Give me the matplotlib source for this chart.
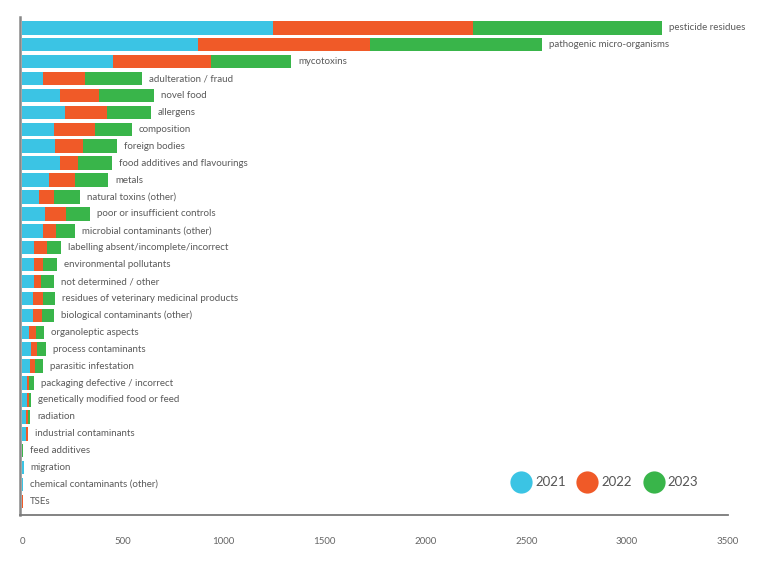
import matplotlib
matplotlib.use("Agg")
import matplotlib.pyplot as plt
from matplotlib.lines import Line2D
import numpy as np

categories = [
    "pesticide residues", "pathogenic micro-organisms", "mycotoxins",
    "adulteration / fraud", "novel food", "allergens", "composition",
    "foreign bodies", "food additives and flavourings", "metals",
    "natural toxins (other)", "poor or insufficient controls",
    "microbial contaminants (other)", "labelling absent/incomplete/incorrect",
    "environmental pollutants", "not determined / other",
    "residues of veterinary medicinal products", "biological contaminants (other)",
    "organoleptic aspects", "process contaminants", "parasitic infestation",
    "packaging defective / incorrect", "genetically modified food or feed",
    "radiation", "industrial contaminants", "feed additives", "migration",
    "chemical contaminants (other)", "TSEs",
]
v2021 = [1243, 871, 450, 103, 188, 213, 158, 163, 188, 134, 84, 114, 104, 59, 59, 59,
         55, 55, 35, 45, 40, 24, 23, 22, 18, 0, 9, 5, 0]
v2022 = [995, 852, 485, 208, 193, 208, 203, 139, 89, 128, 74, 104, 64, 65, 45, 35,
         49, 44, 34, 29, 24, 10, 10, 9, 10, 0, 0, 0, 5]
v2023 = [935, 856, 401, 282, 272, 218, 184, 168, 169, 164, 129, 119, 94, 69, 69, 64,
         59, 59, 40, 45, 40, 25, 11, 11, 0, 6, 0, 0, 0]
years = ["2021", "2022", "2023"]
colors = ["#3bc4e4", "#f05a28", "#39b54a"]
xticks = [0, 500, 1000, 1500, 2000, 2500, 3000, 3500]

plt.rcParams['font.family'] = ['Lato', 'DejaVu Sans']

fig = plt.figure(figsize=(7.78, 5.62), dpi=100)
ax = fig.add_axes([0.02519, 0.0836, 0.9105, 0.8862])

y = np.arange(len(categories))
a = np.array(v2021, float)
b = np.array(v2022, float)
c = np.array(v2023, float)
h = 0.8
ax.barh(y, a, height=h, color=colors[0], linewidth=0, zorder=3)
ax.barh(y, b, left=a, height=h, color=colors[1], linewidth=0, zorder=3)
ax.barh(y, c, left=a + b, height=h, color=colors[2], linewidth=0, zorder=3)

tot = a + b + c
for yi, t, lab in zip(y, tot, categories):
    ax.annotate(lab, xy=(t, yi), xytext=(5, 0), textcoords="offset points",
                ha="left", va="center", fontsize=7, color="#5a5a5a")

ax.set_xlim(-12, 3500)
ax.set_ylim(len(categories) - 1 + 0.8, -0.64)
ax.set_xticks(xticks)
ax.set_xticklabels([str(t) for t in xticks])
ax.tick_params(axis="x", length=0, pad=16, labelsize=7, labelcolor="#666666")
ax.set_yticks([])
for s in ["top", "right"]:
    ax.spines[s].set_visible(False)
ax.spines["left"].set_color("#888888")
ax.spines["left"].set_linewidth(1.8)
ax.spines["bottom"].set_color("#7a7a7a")
ax.spines["bottom"].set_linewidth(1.3)
for s in ax.spines.values():
    s.set_zorder(1)

handles = [Line2D([], [], marker="o", linestyle="none", markersize=16,
                  markerfacecolor=col, markeredgecolor="none") for col in colors]
ax.legend(handles, years, loc="center", bbox_to_anchor=(0.826, 0.066), ncol=3,
          frameon=False, fontsize=9.5, handletextpad=0.3, columnspacing=0.9,
          labelcolor="#555555", handlelength=1.5)

fig.savefig("out.png", dpi=100)
